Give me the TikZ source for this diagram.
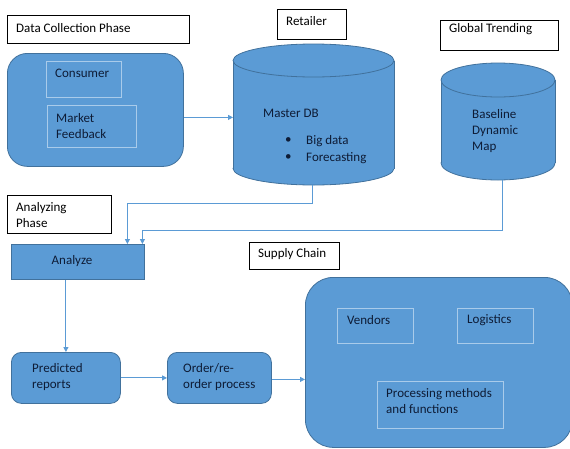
\documentclass[tikz,border=0pt]{standalone}
\usepackage{fontspec}
\setmainfont{Carlito}
\usetikzlibrary{arrows.meta}
\definecolor{ofblue}{HTML}{5B9BD5}
\definecolor{ofdark}{HTML}{41719C}
\definecolor{oflight}{HTML}{A9CBEA}
\definecolor{navy}{HTML}{0E1C36}
\begin{document}
\begin{tikzpicture}[x=1pt,y=-1pt,
  every node/.style={font=\fontsize{13}{16}\selectfont},
  lbl/.style={draw=black, line width=0.8pt, fill=white, anchor=north west, inner sep=0},
  bluebox/.style={fill=ofblue, draw=ofdark, line width=0.8pt, anchor=north west, inner sep=0},
  inbox/.style={draw=oflight, line width=0.8pt, anchor=north west, inner sep=0},
  txt/.style={anchor=west, inner sep=0, text=navy, align=left},
  btxt/.style={anchor=west, inner sep=0, text=black, align=left},
  cylline/.style={draw=ofdark, line width=0.8pt},
  arr/.style={draw=ofblue, line width=0.9pt, -{Triangle[length=5pt,width=5pt]}}
]
\useasboundingbox (0,0) rectangle (570,448);
\fill[white] (0,0) rectangle (570,448);

% ---- label boxes ----
\node[lbl, minimum width=182, minimum height=28] (dcp) at (7,15) {};
\node[btxt] at (16,28) {Data Collection Phase};
\node[lbl, minimum width=69, minimum height=30] (ret) at (277,9) {};
\node[btxt] at (286,21) {Retailer};
\node[lbl, minimum width=118, minimum height=30] (glob) at (440,20) {};
\node[btxt] at (449,29.5) {Global Trending};
\node[lbl, minimum width=104, minimum height=38] (anp) at (7,195) {};
\node[btxt] at (16,215.5) {Analyzing\\Phase};
\node[lbl, minimum width=90, minimum height=27] (supc) at (249,242) {};
\node[btxt] at (258,254.5) {Supply Chain};

% ---- data collection ----
\node[bluebox, rounded corners=20, minimum width=176, minimum height=113] (dc) at (7,53) {};
\node[inbox, minimum width=75, minimum height=36] (cons) at (46,61) {};
\node[txt] at (55,73) {Consumer};
\node[inbox, minimum width=89, minimum height=42] (mf) at (47,105) {};
\node[txt] at (56,126) {Market\\Feedback};

% ---- Master DB cylinder ----
\draw[cylline, fill=ofblue] (313.5,168.5) ellipse[x radius=80.5pt, y radius=16.5pt];
\fill[ofblue] (233,60.5) rectangle (394,168.5);
\draw[cylline] (233,60.5) -- (233,168.5) (394,60.5) -- (394,168.5);
\draw[cylline, fill=ofblue] (313.5,60.5) ellipse[x radius=80.5pt, y radius=16.5pt];
\node[inner sep=0, minimum width=161, minimum height=141, anchor=north west] (mdb) at (233,44) {};
\node[txt] at (263,113) {Master DB};
\node[txt] at (285,141) {•};
\node[txt] at (285,158) {•};
\node[txt] at (306,141) {Big data};
\node[txt] at (306,158) {Forecasting};

% ---- Baseline cylinder ----
\draw[cylline, fill=ofblue] (498,163) ellipse[x radius=57pt, y radius=17pt];
\fill[ofblue] (441,80) rectangle (555,163);
\draw[cylline] (441,80) -- (441,163) (555,80) -- (555,163);
\draw[cylline, fill=ofblue] (498,80) ellipse[x radius=57pt, y radius=17pt];
\node[inner sep=0, minimum width=114, minimum height=117, anchor=north west] (bdm) at (441,63) {};
\node[txt] at (472,131) {Baseline\\Dynamic\\Map};

% ---- analyze ----
\node[bluebox, minimum width=133, minimum height=35] (an) at (11,244) {};
\node[text=navy, inner sep=0] at (72,261.5) {Analyze};

% ---- bottom row ----
\node[bluebox, rounded corners=10, minimum width=109, minimum height=51] (pr) at (11,352) {};
\node[txt] at (32,377.5) {Predicted\\reports};
\node[bluebox, rounded corners=10, minimum width=104, minimum height=51] (oo) at (167,352) {};
\node[txt] at (183,377.5) {Order/re-\\order process};

% ---- supply chain ----
\node[bluebox, rounded corners=28, minimum width=267, minimum height=170] (sc) at (305,277) {};
\node[inbox, minimum width=76, minimum height=35] (ven) at (337,308) {};
\node[txt] at (347,320) {Vendors};
\node[inbox, minimum width=76, minimum height=35] (log) at (457,308) {};
\node[txt] at (467,320) {Logistics};
\node[inbox, minimum width=126, minimum height=47] (proc) at (377,381) {};
\node[txt] at (386,401.5) {Processing methods\\and functions};

% ---- connectors ----
\coordinate (dcout) at ([yshift=-7.5pt]dc.east);
\coordinate (ooout) at ([yshift=-1.5pt]oo.east);
\draw[arr] (dcout) -- (dcout -| mdb.west);
\draw[arr] ([xshift=-1.5pt]mdb.south) -- ++(0,18) -| ([xshift=49.5pt]an.north);
\draw[arr] ([xshift=4pt]bdm.south) -- ++(0,50) -| ([xshift=64.5pt]an.north);
\draw[arr] (pr.north |- an.south) -- (pr.north);
\draw[arr] (pr.east) -- (oo.west);
\draw[arr] (ooout) -- (ooout -| sc.west);
\end{tikzpicture}
\end{document}
